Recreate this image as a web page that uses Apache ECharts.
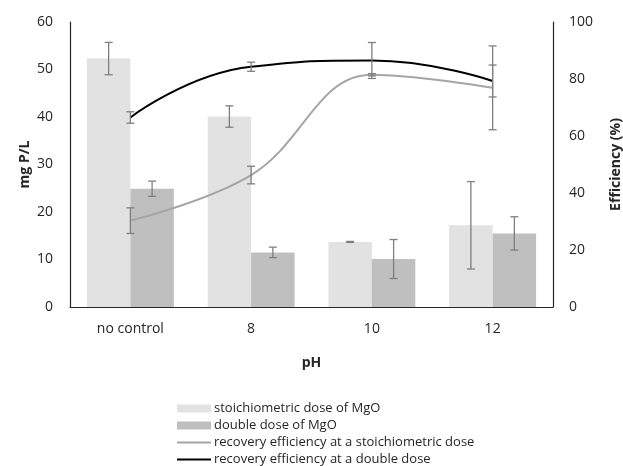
<!DOCTYPE html>
<html>
<head>
<meta charset="utf-8">
<script src="https://cdn.jsdelivr.net/npm/echarts@6/dist/echarts.min.js"></script>
<style>
  html, body { margin: 0; padding: 0; background: #fff; }
  #main { width: 623px; height: 466px; }
</style>
</head>
<body>
<div id="main"></div>
<script>
var categories = ['no control', '8', '10', '12']
var stoichDose = [52.3, 40.1, 13.7, 17.2]
var stoichDoseErr = [3.4, 2.25, 0.1, 9.2]
var doubleDose = [24.9, 11.5, 10.1, 15.5]
var doubleDoseErr = [1.6, 1.1, 4.1, 3.5]
var effStoich = [30.3, 46.3, 81.5, 76.9]
var effStoichErr = [4.5, 3.1, 0.4, 14.7]
var effDouble = [66.5, 84.3, 86.5, 79.3]
var effDoubleErr = [2.0, 1.6, 6.3, 5.6]

var font = 'Open Sans'
var textColor = '#262626'

function errData(values, errs) {
    return values.map(function (v, i) { return [i, v, errs[i]] })
}

// shift: -1 left bar, 1 right bar, 0 category centre
function errRender(shift) {
    return function (params, api) {
        var i = api.value(0), v = api.value(1), e = api.value(2)
        var band = api.size([1, 0])[0]
        var dx = shift * band * 0.18
        var top = api.coord([i, v + e])
        var bot = api.coord([i, v - e])
        var x = top[0] + dx
        var cap = 4
        var style = { stroke: '#7f7f7f', lineWidth: 1.3 }
        return {
            type: 'group',
            children: [
                { type: 'line', shape: { x1: x, y1: top[1], x2: x, y2: bot[1] }, style: style },
                { type: 'line', shape: { x1: x - cap, y1: top[1], x2: x + cap, y2: top[1] }, style: style },
                { type: 'line', shape: { x1: x - cap, y1: bot[1], x2: x + cap, y2: bot[1] }, style: style }
            ]
        }
    }
}

function errSeries(values, errs, shift, yIndex) {
    return {
        type: 'custom',
        yAxisIndex: yIndex,
        renderItem: errRender(shift),
        encode: { x: 0, y: 1 },
        data: errData(values, errs),
        z: 5,
        silent: true
    }
}

var chart = echarts.init(document.getElementById('main'))
var option = {
    animation: false,
    textStyle: { fontFamily: font },
    grid: { left: 70, right: 70, top: 22, bottom: 159, outerBoundsMode: 'none' },
    legend: {
        orient: 'vertical',
        left: 176,
        top: 402,
        height: 70,
        padding: 0,
        itemWidth: 34,
        itemHeight: 8,
        itemGap: 4,
        textStyle: { fontFamily: font, fontSize: 13, color: textColor, padding: [0, 0, 0, -2] },
        data: [
            { name: 'stoichiometric dose of MgO', icon: 'rect' },
            { name: 'double dose of MgO', icon: 'rect' },
            { name: 'recovery efficiency at a stoichiometric dose', itemStyle: { opacity: 0 } },
            { name: 'recovery efficiency at a double dose', itemStyle: { opacity: 0 } }
        ]
    },
    xAxis: {
        type: 'category',
        data: categories,
        name: 'pH',
        nameLocation: 'middle',
        nameGap: 49,
        nameMoveOverlap: false,
        nameTextStyle: { fontFamily: font, fontSize: 14, fontWeight: 'bold', color: textColor },
        axisLine: { lineStyle: { color: '#262626', width: 1.2 } },
        axisTick: { show: false },
        axisLabel: { fontFamily: font, fontSize: 14, color: textColor, margin: 15 }
    },
    yAxis: [
        {
            type: 'value',
            min: 0,
            max: 60,
            interval: 10,
            name: 'mg P/L',
            nameLocation: 'middle',
            nameGap: 38,
            nameMoveOverlap: false,
            nameTextStyle: { fontFamily: font, fontSize: 14, fontWeight: 'bold', color: textColor },
            axisLine: { show: true, lineStyle: { color: '#262626', width: 1.2 } },
            axisTick: { show: false },
            splitLine: { show: false },
            axisLabel: { fontFamily: font, fontSize: 14, color: textColor, margin: 17 }
        },
        {
            type: 'value',
            min: 0,
            max: 100,
            interval: 20,
            name: 'Efficiency (%)',
            nameLocation: 'middle',
            nameGap: 56,
            nameMoveOverlap: false,
            nameTextStyle: { fontFamily: font, fontSize: 14, fontWeight: 'bold', color: textColor },
            axisLine: { show: true, lineStyle: { color: '#262626', width: 1.2 } },
            axisTick: { show: false },
            splitLine: { show: false },
            axisLabel: { fontFamily: font, fontSize: 14, color: textColor, margin: 16 }
        }
    ],
    series: [
        {
            name: 'stoichiometric dose of MgO',
            type: 'bar',
            data: stoichDose,
            barWidth: '36%',
            barGap: '0%',
            itemStyle: { color: '#e2e2e2' }
        },
        {
            name: 'double dose of MgO',
            type: 'bar',
            data: doubleDose,
            barWidth: '36%',
            barGap: '0%',
            itemStyle: { color: '#bfbfbf' }
        },
        {
            name: 'recovery efficiency at a stoichiometric dose',
            type: 'line',
            yAxisIndex: 1,
            data: effStoich,
            smooth: 0.4,
            symbol: 'none',
            lineStyle: { color: '#a5a5a5', width: 2 },
            itemStyle: { color: '#a5a5a5' },
            z: 3
        },
        {
            name: 'recovery efficiency at a double dose',
            type: 'line',
            yAxisIndex: 1,
            data: effDouble,
            smooth: 0.5,
            symbol: 'none',
            lineStyle: { color: '#000000', width: 2 },
            itemStyle: { color: '#000000' },
            z: 3
        },
        errSeries(stoichDose, stoichDoseErr, -1, 0),
        errSeries(doubleDose, doubleDoseErr, 1, 0),
        errSeries(effStoich, effStoichErr, 0, 1),
        errSeries(effDouble, effDoubleErr, 0, 1)
    ]
}
chart.setOption(option)
</script>
</body>
</html>
